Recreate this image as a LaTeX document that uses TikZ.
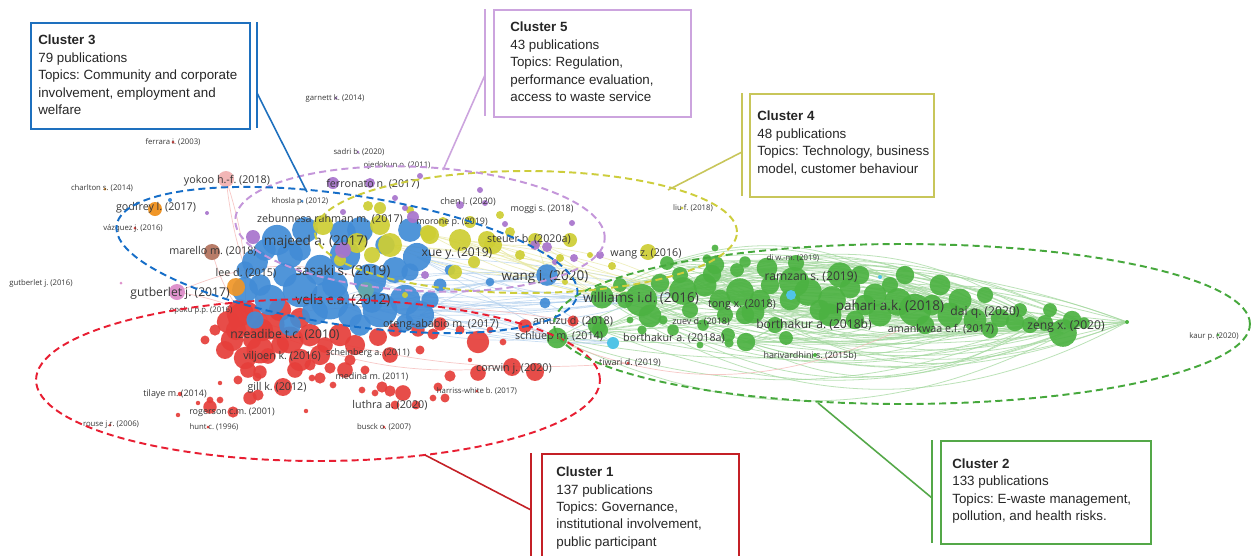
\documentclass[tikz,border=0pt]{standalone}
\usepackage{fontspec}
\setmainfont{Liberation Sans}
\newfontfamily\vosfont{Open Sans}
\usetikzlibrary{positioning}
\frenchspacing

\definecolor{c1line}{RGB}{196,32,38}
\definecolor{c1dash}{RGB}{232,30,50}
\definecolor{c1bub}{RGB}{230,62,58}
\definecolor{c2line}{RGB}{84,168,72}
\definecolor{c2dash}{RGB}{70,168,60}
\definecolor{c2bub}{RGB}{76,178,66}
\definecolor{c3line}{RGB}{30,112,190}
\definecolor{c3dash}{RGB}{22,110,200}
\definecolor{c3bub}{RGB}{66,140,214}
\definecolor{c4line}{RGB}{200,198,90}
\definecolor{c4dash}{RGB}{205,205,60}
\definecolor{c4bub}{RGB}{206,206,52}
\definecolor{c5line}{RGB}{204,164,222}
\definecolor{c5dash}{RGB}{196,150,218}
\definecolor{c5bub}{RGB}{168,116,204}
\definecolor{orbub}{RGB}{240,150,40}
\definecolor{pkbub}{RGB}{222,146,204}
\definecolor{ykbub}{RGB}{242,182,182}
\definecolor{brbub}{RGB}{184,124,104}
\definecolor{cybub}{RGB}{80,196,230}
\definecolor{tlbub}{RGB}{100,170,170}
\definecolor{lbltext}{RGB}{56,56,56}
\definecolor{boxtext}{RGB}{38,38,38}

\tikzset{
  cbox/.style={line width=1.1pt, inner sep=0pt, anchor=north west},
  ctext/.style={align=left, inner sep=0pt, anchor=west, text=boxtext,
    font=\fontsize{7.6}{9.9}\selectfont},
  cbar/.style={line width=1.2pt},
  clead/.style={line width=0.9pt},
  cdash/.style={line width=1.1pt, dash pattern=on 4pt off 2.4pt},
  lbig/.style={inner sep=0pt, text=lbltext, font=\vosfont\fontsize{7.7}{8}\selectfont},
  lmed/.style={inner sep=0pt, text=lbltext, font=\vosfont\fontsize{6.9}{8}\selectfont},
  lmid/.style={inner sep=0pt, text=lbltext, font=\vosfont\fontsize{6.1}{7}\selectfont},
  lsmm/.style={inner sep=0pt, text=lbltext, font=\vosfont\fontsize{5.1}{6}\selectfont},
  lsml/.style={inner sep=0pt, text=lbltext, font=\vosfont\fontsize{4.4}{5}\selectfont},
  gedge/.style={draw=c2bub!50!white, line width=0.45pt, opacity=0.75},
  bedge/.style={draw=c3bub!40!white, line width=0.4pt, opacity=0.7},
  yedge/.style={draw=c4bub!45!white, line width=0.4pt, opacity=0.7},
  redge/.style={draw=c1bub!40!white, line width=0.4pt, opacity=0.7},
  bub/.style={fill opacity=0.92}
}

\begin{document}
\begin{tikzpicture}[x=0.02cm, y=-0.02cm]
\useasboundingbox (0,0) rectangle (1252,555);
\fill[white] (0,0) rectangle (1252,555);

% edges: green bundle
\foreach \n/\x/\y in {1/602/297, 2/641/300, 3/683/291, 4/557/338, 5/600/330,
    6/667/263, 7/712/274, 8/650/316, 9/740/292, 10/746/342, 11/620/285, 12/705/285}
  \coordinate (gl\n) at (\x,\y);
\foreach \n/\x/\y in {1/1063/333, 2/1084/323, 3/1045/323, 4/1000/318,
    5/975/320, 6/932/305, 7/1127/322, 8/1030/325}
  \coordinate (gr\n) at (\x,\y);
\foreach \i in {1,...,12}
  \foreach \j in {1,...,8}
    {\pgfmathsetmacro\bend{mod(\i*13+\j*7,62)-31}
     \draw[gedge] (gl\i) to[bend left=\bend] (gr\j);}

% edges: blue, yellow and red
\foreach \n/\x/\y in {1/330/300, 2/370/280, 3/405/300, 4/420/315, 5/417/257, 6/380/310}
  \coordinate (bl\n) at (\x,\y);
\foreach \n/\x/\y in {1/602/297, 2/641/300, 3/547/275, 4/557/338, 5/683/291, 6/613/343}
  \coordinate (bt\n) at (\x,\y);
\foreach \i in {1,...,6}
  \foreach \j in {1,...,6}
    {\pgfmathsetmacro\bend{mod(\i*11+\j*5,30)-15}
     \draw[bedge] (bl\i) to[bend left=\bend] (bt\j);}
\foreach \n/\x/\y in {1/460/240, 2/493/245, 3/535/240, 4/430/235, 5/390/245}
  \coordinate (yl\n) at (\x,\y);
\foreach \i in {1,...,5}
  \foreach \j in {1,2,3,5}
    {\pgfmathsetmacro\bend{mod(\i*7+\j*9,30)-15}
     \draw[yedge] (yl\i) to[bend left=\bend] (bt\j);}
\coordinate (rz1) at (270,325);
\coordinate (rz2) at (245,318);
\coordinate (rz3) at (290,340);
\coordinate (rz4) at (525,326);
\coordinate (rt1) at (630,363);
\coordinate (rt2) at (573,321);
\coordinate (rt3) at (512,367);
\coordinate (rt4) at (900,330);
\coordinate (yk) at (226,179);
\coordinate (gb) at (177,292);
\coordinate (mr) at (212,252);
\draw[redge] (rz1) to[bend right=10] (rt1);
\draw[redge] (rz2) to[bend left=8] (rt2);
\draw[redge] (rz3) to[bend right=12] (rt3);
\draw[redge] (rz4) to[bend right=25] (rt4);
\draw[redge] (yk) to[bend right=10] (rz1);
\draw[redge] (yk) to[bend left=10] (rz2);
\draw[redge] (gb) to[bend left=10] (rz1);
\draw[redge] (mr) to[bend right=10] (rz2);
\draw[redge] (gb) to[bend left=20] (bl2);

% bubbles
\foreach \x/\y/\r in {240/313/12, 228/322/10, 245/318/15, 262/330/10, 270/325/13,
    232/340/10, 260/350/12, 290/340/12, 310/335/10, 300/360/10, 320/355/9,
    340/335/10, 355/345/9, 378/337/8, 390/355/7, 418/330/6, 395/330/6,
    225/350/8, 245/358/10, 268/356/7, 248/370/7, 260/372/6, 295/370/7,
    310/365/5, 330/368/5, 320/378/5, 345/370/7, 283/387/8, 258/395/5,
    250/398/6, 238/380/4, 220/400/3, 210/400/3, 198/403/2, 233/412/5,
    210/407/6, 180/394/2, 178/415/2, 220/383/2, 312/378/3, 306/411/2,
    333/385/3, 382/387/5, 390/391/5, 403/393/7, 395/405/4, 416/405/4,
    375/393/3, 362/390/3, 433/334/5, 440/324/6, 478/342/10, 503/342/3,
    470/360/2, 478/373/7, 512/367/8, 535/372/8, 450/376/5, 438/387/4,
    445/398/4, 433/398/3, 525/326/6, 573/321/5, 280/310/10, 300/318/9,
    215/330/5, 205/340/4, 257/377/4, 350/360/5, 365/370/4, 420/350/4,
    460/330/4, 490/330/3, 236/330/9, 280/345/8, 325/345/7, 252/340/8}
  \fill[c1bub, bub] (\x,\y) circle [radius=1.12*\r*0.02cm];
\foreach \x/\y/\r in {110/425/1.5, 208/427/1.5, 384/427/1.5,
    173/142/1.5, 628/363/1.5, 477/391/1.5}
  \fill[c1bub] (\x,\y) circle [radius=\r*0.02cm];
\foreach \x/\y/\r in {602/297/10, 641/300/14, 650/316/10, 625/300/7, 600/330/7,
    557/338/9, 597/325/8, 683/291/12, 705/285/10, 715/265/8, 712/274/8,
    737/270/6, 740/292/12, 745/315/8, 760/300/9, 753/312/10, 790/300/9,
    794/282/13, 767/268/9, 808/292/12, 830/315/10, 840/275/11, 832/300/12,
    860/275/8, 875/295/10, 880/315/10, 898/302/12, 905/275/8, 915/310/14,
    940/285/9, 950/315/11, 960/300/10, 975/320/10, 932/305/9, 1000/318/8,
    1015/322/8, 1030/325/7, 1045/323/7, 1063/333/12, 1084/323/5,
    796/263/7, 745/262/5, 715/248/3, 728/335/6, 673/330/5, 729/343/4,
    746/342/8, 786/338/6, 703/325/5, 663/320/4, 630/320/3, 667/263/6,
    707/259/4, 620/285/6, 660/283/8, 690/310/7, 720/300/9, 775/325/7,
    855/320/8, 890/285/7, 925/325/8, 985/295/7, 1050/310/6, 1072/320/8,
    700/345/3, 642/330/4, 770/285/8, 820/310/9, 865/305/9, 990/330/7,
    1020/310/6, 725/315/7, 680/275/7, 850/288/9}
  \fill[c2bub, bub] (\x,\y) circle [radius=1.15*\r*0.02cm];
\foreach \x/\y/\r in {1127/322/2, 815/355/2, 1218/335/1.5}
  \fill[c2bub] (\x,\y) circle [radius=\r*0.02cm];
\foreach \x/\y/\r in {277/240/14, 255/262/12, 245/290/12, 270/300/14, 300/290/16,
    315/312/12, 330/300/18, 345/255/14, 360/230/12, 305/230/12, 320/270/14,
    370/280/15, 380/310/16, 360/325/10, 395/270/12, 405/300/14, 420/315/13,
    410/230/11, 265/250/10, 245/270/8, 255/320/8, 290/325/10, 343/233/12,
    417/257/13, 410/272/8, 405/323/8, 547/275/10, 545/303/5, 440/285/6,
    290/255/12, 335/285/12, 260/285/10, 300/250/10, 385/245/9, 430/300/8,
    450/270/5, 490/282/4, 372/302/10, 285/275/11, 350/315/11}
  \fill[c3bub, bub] (\x,\y) circle [radius=1.08*\r*0.02cm];
\foreach \x/\y/\r in {170/200/2, 302/201/1.5}
  \fill[c3bub] (\x,\y) circle [radius=\r*0.02cm];
\foreach \x/\y/\r in {323/225/10, 380/225/10, 390/245/12, 372/255/8, 430/235/9,
    460/240/11, 470/222/6, 493/245/9, 510/232/5, 535/240/7, 570/240/7,
    368/206/5, 443/222/5, 500/215/4, 455/272/7, 357/243/10, 428/233/8,
    487/240/9, 648/252/8, 612/266/4, 380/208/6, 410/210/4, 520/255/5,
    560/258/4, 590/255/3, 474/262/6, 340/260/6, 405/295/3, 565/282/3,
    682/208/1.5}
  \fill[c4bub, bub] (\x,\y) circle [radius=\r*0.02cm];
\foreach \x/\y/\r in {333/183/6, 370/183/5, 253/237/7, 343/250/8, 413/217/6,
    405/208/3, 343/212/3, 485/203/3, 535/245/5, 547/247/5, 574/258/4,
    600/255/4, 425/275/4, 207/213/2, 572/223/3, 336/98/1.5, 358/152/1.5,
    480/190/3, 420/176/3, 505/224/3, 555/262/3, 395/198/3, 460/205/4}
  \fill[c5bub, bub] (\x,\y) circle [radius=\r*0.02cm];
\fill[cybub] (613,343) circle [radius=6*0.02cm];
\fill[cybub] (791,295) circle [radius=5*0.02cm];
\fill[cybub] (880,277) circle [radius=2*0.02cm];
\fill[tlbub, bub] (366,290) circle [radius=8*0.02cm];
\fill[orbub] (155,209) circle [radius=7*0.02cm];
\fill[orbub, bub] (236,287) circle [radius=9*0.02cm];
\fill[orbub] (105,189) circle [radius=1.5*0.02cm];
\fill[c1bub] (135,228) circle [radius=1.5*0.02cm];
\fill[pkbub] (177,292) circle [radius=8*0.02cm];
\fill[pkbub] (121,283) circle [radius=1.5*0.02cm];
\fill[ykbub] (226,179) circle [radius=8*0.02cm];
\fill[brbub] (212,252) circle [radius=8*0.02cm];

% labels
\node (garnett) [lsml] at (335,98) {garnett k. (2014)};
\node (ferrara) [lsml] at (173,142) {ferrara i. (2003)};
\node (sadri) [lsml] at (359,152) {sadri b. (2020)};
\node (ojedokun) [lsml] at (397,165) {ojedokun o. (2011)};
\node (charlton) [lsml] at (102,188) {charlton s. (2014)};
\node (vazquez) [lsml] at (133,228) {vázquez j. (2016)};
\node (gutb16) [lsml] at (41,283) {gutberlet j. (2016)};
\node (liu) [lsml] at (693,208) {liu f. (2018)};
\node (opoku) [lsml] at (201,310) {opoku p.p. (2016)};
\node (diwm) [lsml] at (793,258) {di w.-m. (2019)};
\node (kaur) [lsml] at (1214,336) {kaur p. (2020)};
\node (harriss) [lsml] at (477,391) {harriss-white b. (2017)};
\node (hunt) [lsml] at (214,427) {hunt c. (1996)};
\node (rouse) [lsml] at (111,425) {rouse j.r. (2006)};
\node (busck) [lsml] at (384,427) {busck o. (2007)};
\node (khosla) [lsml] at (300,201) {khosla p. (2012)};
\node (chen) [lsmm] at (468,202) {chen l. (2020)};
\node (morone) [lsmm] at (452,222) {morone p. (2019)};
\node (moggi) [lsmm] at (542,209) {moggi s. (2018)};
\node (zuev) [lsmm] at (701,322) {zuev d. (2018)};
\node (scheinberg) [lsmm] at (368,353) {scheinberg a. (2011)};
\node (medina) [lsmm] at (372,377) {medina m. (2011)};
\node (harivardhini) [lsmm] at (810,356) {harivardhini s. (2015b)};
\node (tilaye) [lsmm] at (175,394) {tilaye m. (2014)};
\node (rogerson) [lsmm] at (232,412) {rogerson c.m. (2001)};
\node (tiwari) [lsmm] at (630,363) {tiwari d. (2019)};
\node (ferronato) [lmid] at (373,184) {ferronato n. (2017)};
\node (zebunnesa) [lmid] at (330,219) {zebunnesa rahman m. (2017)};
\node (steuer) [lmid] at (529,239) {steuer b. (2020a)};
\node (wangz) [lmid] at (646,254) {wang z. (2016)};
\node (marello) [lmid] at (213,251) {marello m. (2018)};
\node (yokoo) [lmid] at (227,181) {yokoo h.-f. (2018)};
\node (godfrey) [lmid] at (156,208) {godfrey l. (2017)};
\node (lee) [lmid] at (246,273) {lee d. (2015)};
\node (oteng) [lmid] at (441,325) {oteng-ababio m. (2017)};
\node (amuzu) [lmid] at (573,321) {amuzu d. (2018)};
\node (schluep) [lmid] at (559,337) {schluep m. (2014)};
\node (borth18a) [lmid] at (674,338) {borthakur a. (2018a)};
\node (corwin) [lmid] at (514,369) {corwin j. (2020)};
\node (gill) [lmid] at (277,388) {gill k. (2012)};
\node (luthra) [lmid] at (390,405) {luthra a. (2020)};
\node (viljoen) [lmid] at (282,357) {viljoen k. (2016)};
\node (tong) [lmid] at (742,305) {tong x. (2018)};
\node (amankwaa) [lmid] at (941,329) {amankwaa e.f. (2017)};
\node (ramzan) [lmed] at (811,277) {ramzan s. (2019)};
\node (dai) [lmed] at (985,312) {dai q. (2020)};
\node (borth18b) [lmed] at (814,325) {borthakur a. (2018b)};
\node (zeng) [lmed] at (1066,327) {zeng x. (2020)};
\node (xue) [lmed] at (457,254) {xue y. (2019)};
\node (gutb17) [lmed] at (180,293) {gutberlet j. (2017)};
\node (nzeadibe) [lmed] at (285,335) {nzeadibe t.c. (2010)};
\node (majeed) [lbig] at (316,242) {majeed a. (2017)};
\node (sasaki) [lbig] at (343,271) {sasaki s. (2019)};
\node (velis) [lbig] at (343,300) {velis c.a. (2012)};
\node (williams) [lbig] at (641,298) {williams i.d. (2016)};
\node (pahari) [lbig] at (890,307) {pahari a.k. (2018)};
\node (wangj) [lbig] at (545,277) {wang j. (2020)};

% cluster outlines
\draw[cdash, c1dash] (318,380) ellipse [x radius=5.64cm, y radius=1.62cm];
\draw[cdash, c2dash] (902,324) ellipse [x radius=6.96cm, y radius=1.6cm];
\draw[cdash, c4dash] (526,232) ellipse [x radius=4.22cm, y radius=1.22cm];
\draw[cdash, c5dash, rotate around={-3:(420,229)}] (420,229) ellipse [x radius=3.7cm, y radius=1.24cm];
\draw[cdash, c3dash, rotate around={-8.6:(347,260)}] (347,260) ellipse [x radius=4.66cm, y radius=1.3cm];

% cluster boxes
\node (c3box) [cbox, draw=c3line, minimum width=4.38cm, minimum height=2.12cm] at (30,22) {};
\node (c3txt) [ctext] at (38,75) {\textbf{Cluster 3}\\79 publications\\Topics: Community and corporate\\involvement, employment and\\welfare};
\node (c5box) [cbox, draw=c5line, minimum width=3.94cm, minimum height=2.14cm] at (493,9) {};
\node (c5txt) [ctext] at (510,62) {\textbf{Cluster 5}\\43 publications\\Topics: Regulation,\\performance evaluation,\\access to waste service};
\node (c4box) [cbox, draw=c4line, minimum width=3.68cm, minimum height=2.06cm] at (749,93) {};
\node (c4txt) [ctext] at (757,143) {\textbf{Cluster 4}\\48 publications\\Topics: Technology, business\\model, customer behaviour};
\node (c1box) [cbox, draw=c1line, minimum width=3.94cm, minimum height=2.3cm] at (541,453) {};
\node (c1txt) [ctext] at (556,508) {\textbf{Cluster 1}\\137 publications\\Topics: Governance,\\institutional involvement,\\public participant};
\node (c2box) [cbox, draw=c2line, minimum width=4.2cm, minimum height=2.06cm] at (940,440) {};
\node (c2txt) [ctext] at (952,491) {\textbf{Cluster 2}\\133 publications\\Topics: E-waste management,\\pollution, and health risks.};

% bars and leader lines
\coordinate (c3top) at (257,22);
\coordinate (c3bot) at (257,128);
\coordinate (c3knee) at (257,93);
\coordinate (c3tip) at (307,192);
\coordinate (c5top) at (485,9);
\coordinate (c5bot) at (485,116);
\coordinate (c5knee) at (485,75);
\coordinate (c5tip) at (443,170);
\coordinate (c4top) at (742,93);
\coordinate (c4bot) at (742,196);
\coordinate (c4knee) at (742,152);
\coordinate (c4tip) at (668,190);
\coordinate (c1top) at (531,453);
\coordinate (c1bot) at (531,556);
\coordinate (c1knee) at (531,510);
\coordinate (c1tip) at (425,455);
\coordinate (c2top) at (932,440);
\coordinate (c2bot) at (932,543);
\coordinate (c2knee) at (932,498);
\coordinate (c2tip) at (818,403);
\draw[cbar, c3line] (c3top) -- (c3bot);
\draw[clead, c3line] (c3knee) -- (c3tip);
\draw[cbar, c5line] (c5top) -- (c5bot);
\draw[clead, c5line] (c5knee) -- (c5tip);
\draw[cbar, c4line] (c4top) -- (c4bot);
\draw[clead, c4line] (c4knee) -- (c4tip);
\draw[cbar, c1line] (c1top) -- (c1bot);
\draw[clead, c1line] (c1knee) -- (c1tip);
\draw[cbar, c2line] (c2top) -- (c2bot);
\draw[clead, c2line] (c2knee) -- (c2tip);
\end{tikzpicture}
\end{document}
